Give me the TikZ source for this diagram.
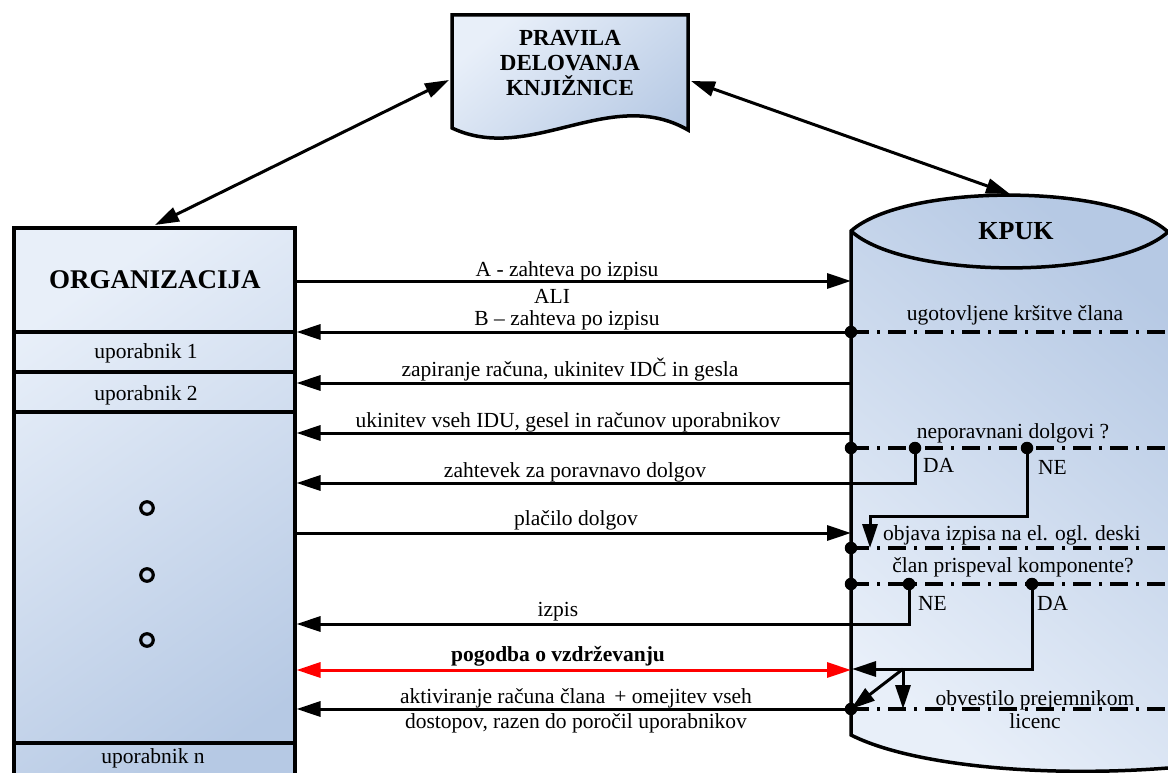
\documentclass[tikz,border=0pt]{standalone}
\usepackage{fontspec}
\setmainfont{Liberation Serif}
\usetikzlibrary{arrows.meta,calc}

\definecolor{shadeLight}{RGB}{232,239,249}
\definecolor{shadeDark}{RGB}{182,201,228}

\begin{document}
\begin{tikzpicture}[x=1pt,y=-1pt,
  txt/.style={inner sep=0pt,anchor=base,font=\fontsize{21.5}{25}\selectfont},
  btxt/.style={inner sep=0pt,anchor=base,font=\bfseries\fontsize{21.5}{25}\selectfont},
  title/.style={inner sep=0pt,anchor=base,font=\bfseries\fontsize{27}{29}\selectfont},
  arr/.style={line width=3pt,-{Triangle[length=24pt,width=15pt]}},
  dblarr/.style={line width=3pt,{Triangle[length=24pt,width=15pt]}-{Triangle[length=24pt,width=15pt]}},
  border/.style={line width=3.5pt},
  dashdot/.style={line width=3.5pt,dash pattern=on 18pt off 8pt on 3pt off 8pt},
  joint/.style={circle,fill=black,inner sep=0pt,minimum size=12.5pt},
  ring/.style={circle,draw=black,line width=3.2pt,inner sep=0pt,minimum size=12.5pt},
  bluefill/.style={top color=shadeLight,bottom color=shadeDark},
]
\useasboundingbox (0,0) rectangle (1168,773);
\clip (0,0) rectangle (1168,773);

% ---------- rules document ----------
\path[bluefill,shading angle=40]
  (452,15) -- (688,15) -- (688,130) .. controls (610,85) and (530,165) .. (452,128) -- cycle;
\draw[border,line join=miter]
  (452,15) -- (688,15) -- (688,130) .. controls (610,85) and (530,165) .. (452,128) -- cycle;
\node[inner sep=0pt,align=center,font=\bfseries\fontsize{23}{25}\selectfont] (doc) at (570,63)
  {PRAVILA\\DELOVANJA\\KNJIŽNICE};
\coordinate (docW) at (449,80);
\coordinate (docE) at (691,81);

% ---------- organisation ----------
\node[draw,border,bluefill,shading angle=35,minimum width=281pt,minimum height=580pt,
      anchor=north west,inner sep=0pt] (org) at (12,226) {};
\foreach \yy in {332,372,412,743}
  \draw[border] (org.west |- 0,\yy) -- (org.east |- 0,\yy);
\node[title] (orgname) at (155,288) {ORGANIZACIJA};
\node[txt] (u1) at (146,358) {uporabnik 1};
\node[txt] (u2) at (146,400) {uporabnik 2};
\node[txt] (un) at (153,763) {uporabnik n};
\node[ring] (r1) at (147,508) {};
\node[ring] (r2) at (147,575) {};
\node[ring] (r3) at (147,640) {};
\coordinate (orgTop) at (155,225);

% ---------- KPUK store ----------
\path[bluefill,shading angle=140]
  (851,231) .. controls (905,183) and (1115,183) .. (1168,232)
  -- (1168,768) .. controls (1040,778) and (910,765) .. (851,735) -- cycle;
\draw[border] (1168,768) .. controls (1040,778) and (910,765) .. (851,735)
  -- (851,231) .. controls (905,183) and (1115,183) .. (1168,232);
\draw[border] (851,231) .. controls (905,280) and (1115,280) .. (1168,232);
\node[title,font=\bfseries\fontsize{26}{28}\selectfont] (kpuk) at (1016,239) {KPUK};
\coordinate (kTop) at (1010,194);

% state lines inside the store
\foreach \yy in {332,448,548,584,709}
  \draw[dashdot] (851,\yy) -- (1168,\yy);

\node[txt] (s1) at (1015,320) {ugotovljene kršitve člana};
\node[txt] (s2) at (1013,438) {neporavnani dolgovi ?};
\node[txt,anchor=base west] (s3) at (883,540) {objava izpisa na el. ogl. deski};
\node[txt] (s4) at (1013,572) {član prispeval komponente?};
\node[txt,align=center,font=\fontsize{21.5}{23}\selectfont] (s5) at (1035,728)
  {obvestilo prejemnikom\\licenc};
\node[txt,anchor=base west] (da1) at (923,472) {DA};
\node[txt,anchor=base west] (ne1) at (1038,474) {NE};
\node[txt,anchor=base west] (ne2) at (918,610) {NE};
\node[txt,anchor=base west] (da2) at (1037,610) {DA};

% anchor points on the store wall
\coordinate (kA)   at (851,281);
\coordinate (kZap) at (851,383);
\coordinate (kUki) at (851,433);
\coordinate (kZah) at (915,483);
\coordinate (kPla) at (851,533);
\coordinate (kIzp) at (909,624);
\coordinate (kPog) at (851,670);
\coordinate (kNE)  at (1027,516);
\coordinate (kNEd) at (870,516);
\coordinate (kDA)  at (1032,669);
\coordinate (kDAend) at (852,669);
\coordinate (kFork) at (903,669);

% junctions
\coordinate (jB)   at (851,332);
\coordinate (jDeb) at (851,448);
\coordinate (jDA1) at (915,448);
\coordinate (jNE1) at (1027,448);
\coordinate (jPub) at (851,548);
\coordinate (jCon) at (851,584);
\coordinate (jNE2) at (909,584);
\coordinate (jDA2) at (1032,584);
\coordinate (jAkt) at (851,709);

% ---------- connectors ----------
\draw[dblarr] (docW) -- (orgTop);
\draw[dblarr] (docE) -- (kTop);

\draw[arr] (org.east |- kA) -- (kA);
\draw[arr] (jB) -- (org.east |- jB);
\draw[arr] (kZap) -- (org.east |- kZap);
\draw[arr] (kUki) -- (org.east |- kUki);
\draw[arr] (jDA1) -- (kZah) -- (org.east |- kZah);
\draw[arr] (org.east |- kPla) -- (kPla);
\draw[arr] (jNE1) -- (kNE) -- (kNEd) -- (kNEd |- jPub);
\draw[arr] (jNE2) -- (kIzp) -- (org.east |- kIzp);
\draw[dblarr,red] (org.east |- kPog) -- (kPog);
\draw[arr] (jDA2) -- (kDA) -- (kDAend);
\draw[arr] (kFork) -- (kFork |- jAkt);
\draw[arr] (kFork) -- (jAkt);
\draw[arr] (jAkt) -- (org.east |- jAkt);

% junction dots on top of the lines
\foreach \j in {jB,jDeb,jDA1,jNE1,jPub,jCon,jNE2,jDA2,jAkt}
  \node[joint] (\j-dot) at (\j) {};

% ---------- message labels ----------
\node[txt] (mA)   at (567,276) {A - zahteva po izpisu};
\node[txt] (mAli) at (552,303) {ALI};
\node[txt] (mB)   at (567,325) {B – zahteva po izpisu};
\node[txt] (mZap) at (570,376) {zapiranje računa, ukinitev IDČ in gesla};
\node[txt] (mUki) at (568,427) {ukinitev vseh IDU, gesel in računov uporabnikov};
\node[txt] (mZah) at (575,477) {zahtevek za poravnavo dolgov};
\node[txt] (mPla) at (576,525) {plačilo dolgov};
\node[txt] (mIzp) at (558,616) {izpis};
\node[btxt] (mPog) at (558,661) {pogodba o vzdrževanju};
\node[txt,align=center] (mAkt) at (576,728)
  {aktiviranje računa člana \,+ omejitev vseh\\dostopov, razen do poročil uporabnikov};
\end{tikzpicture}
\end{document}
